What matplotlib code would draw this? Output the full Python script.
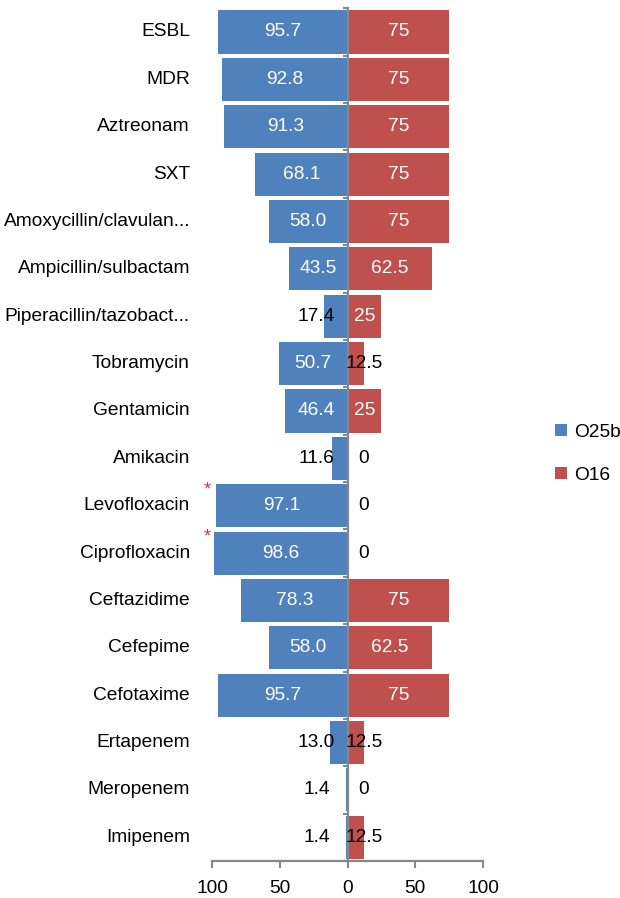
import matplotlib
matplotlib.use("Agg")
import matplotlib.pyplot as plt
from matplotlib.patches import Patch
import numpy as np

plt.rcParams['font.family'] = ['Liberation Sans', 'DejaVu Sans']

categories = ["ESBL", "MDR", "Aztreonam", "SXT", "Amoxycillin/clavulan...",
              "Ampicillin/sulbactam", "Piperacillin/tazobact...", "Tobramycin",
              "Gentamicin", "Amikacin", "Levofloxacin", "Ciprofloxacin",
              "Ceftazidime", "Cefepime", "Cefotaxime", "Ertapenem",
              "Meropenem", "Imipenem"]
o25b = [95.7, 92.8, 91.3, 68.1, 58.0, 43.5, 17.4, 50.7, 46.4, 11.6,
        97.1, 98.6, 78.3, 58.0, 95.7, 13.0, 1.4, 1.4]
o16 = [75, 75, 75, 75, 75, 62.5, 25, 12.5, 25, 0,
       0, 0, 75, 62.5, 75, 12.5, 0, 12.5]
significant = ["Levofloxacin", "Ciprofloxacin"]
series_names = ["O25b", "O16"]
xticks = [-100, -50, 0, 50, 100]
xtick_labels = ["100", "50", "0", "50", "100"]

BLUE = "#4F81BD"
RED = "#C0504D"
GREY = "#888888"
FS = 13.8

W, H = 620, 898
fig = plt.figure(figsize=(W / 100, H / 100), dpi=100)
ax = fig.add_axes([212 / W, 1 - 861 / H, 271 / W, (861 - 8.3) / H])

y = np.arange(len(categories))
ax.barh(y, [-v for v in o25b], height=0.91, color=BLUE, zorder=1)
ax.barh(y, o16, height=0.91, color=RED, zorder=1)

ax.set_xlim(-100, 100)
ax.set_ylim(len(categories) - 0.5, -0.5)

# value labels
for i, v in enumerate(o25b):
    if v >= 40:
        ax.text(-v / 2, i, f"{v:.1f}", color="white", ha="center", va="center", fontsize=FS, zorder=3)
    else:
        ax.text(-23, i, f"{v:.1f}", color="black", ha="center", va="center", fontsize=FS, zorder=3)
for i, v in enumerate(o16):
    txt = f"{v:g}"
    if v >= 25:
        ax.text(v / 2, i, txt, color="white", ha="center", va="center", fontsize=FS, zorder=3)
    else:
        ax.text(12, i, txt, color="black", ha="center", va="center", fontsize=FS, zorder=3)

# category labels
for i, c in enumerate(categories):
    ax.annotate(c, xy=(0, i), xycoords=("axes fraction", "data"),
                xytext=(-22, 0), textcoords="offset pixels",
                ha="right", va="center", fontsize=FS, color="black")
    if c in significant:
        ax.annotate("*", xy=(0, i - 0.33), xycoords=("axes fraction", "data"),
                    xytext=(-5, 0), textcoords="offset pixels",
                    ha="center", va="center", fontsize=13, color="#E0303A")

# spines
for s in ["top", "right"]:
    ax.spines[s].set_visible(False)
ax.spines["left"].set_position(("data", 0))
ax.spines["left"].set_color(GREY)
ax.spines["left"].set_linewidth(1.6)
ax.spines["left"].set_zorder(2.5)
ax.spines["bottom"].set_color(GREY)
ax.spines["bottom"].set_linewidth(1.6)

ax.set_yticks(np.arange(-0.5, len(categories), 1.0))
ax.set_yticklabels([])
ax.tick_params(axis="y", length=3.5, width=1.5, color=GREY, direction="out")

ax.set_xticks(xticks)
ax.set_xticklabels(xtick_labels, fontsize=FS)
ax.tick_params(axis="x", length=5, width=1.5, color=GREY, direction="out", pad=9)

handles = [Patch(facecolor=BLUE, edgecolor="none"), Patch(facecolor=RED, edgecolor="none")]
fig.legend(handles, series_names, loc="upper left",
           bbox_to_anchor=(555 / W, 1 - 424 / H), frameon=False,
           fontsize=FS, handlelength=0.6, handleheight=0.6, handletextpad=0.4,
           labelspacing=1.35, borderpad=0, borderaxespad=0)

fig.savefig("out.png", dpi=100)
